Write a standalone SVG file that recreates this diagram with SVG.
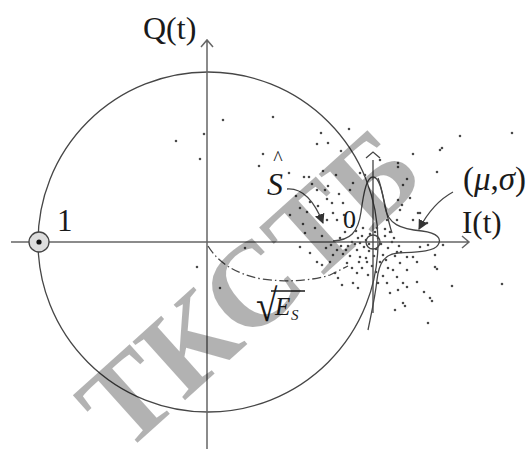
<svg xmlns="http://www.w3.org/2000/svg" width="527" height="464" viewBox="0 0 527 464">
<style>
.ax{stroke:#666;stroke-width:1.5;fill:none}
.ln{stroke:#464646;stroke-width:1.3;fill:none}
.tx{font-family:"Liberation Serif","Times New Roman",serif;fill:#1a1a1a}
.it{font-style:italic}
.dots{stroke:#4a4a4a;stroke-width:2.6;stroke-linecap:round;fill:none}
.wm{font-family:"Liberation Serif","Times New Roman",serif;font-weight:bold;font-size:120px;fill:#000;fill-opacity:0.3}
</style>
<defs>
<marker id="ah" viewBox="0 0 10 10" refX="9" refY="5" markerWidth="10" markerHeight="10" markerUnits="userSpaceOnUse" orient="auto">
<path d="M0 0L10 5L0 10z" fill="#333"/>
</marker>
</defs>
<rect width="527" height="464" fill="#fff"/>
<g id="circle"><circle cx="208" cy="242" r="170" class="ln"/></g>
<g id="axes">
<path class="ax" d="M11 242H469M462 236L469 242L462 248"/>
<path class="ax" d="M207 449V40M201 47L207 40L213 47"/>
</g>
<g id="scatter">
<path class="dots" d="M176 141h0M204 134h0M200 159h0M223 120h0M273 117h0M263 154h0M259 166h0M289 173h0M304 177h0M309 177h0M321 133h0M317 144h0M328 143h0M323 171h0M328 186h0M317 190h0M349 129h0M341 151h0M360 173h0M365 175h0M380 160h0M398 163h0M398 167h0M413 154h0M437 172h0M442 148h0M460 136h0M512 133h0M440 150h0M403 185h0M410 198h0M398 200h0M418 213h0M400 210h0M413 220h0M427 223h0M387 220h0M402 205h0M420 213h0M397 220h0M407 179h0M336 175h0M325 190h0M327 199h0M332 203h0M310 202h0M307 212h0M333 213h0M327 220h0M337 220h0M343 203h0M350 190h0M353 183h0M296 196h0M300 208h0M315 228h0M322 236h0M303 224h0M290 215h0M345 232h0M340 238h0M352 226h0M358 238h0M318 206h0M339 194h0M344 215h0M312 184h0
M245 248h0M300 247h0M310 253h0M317 262h0M322 265h0M335 273h0M338 278h0M347 263h0M352 268h0M357 273h0M360 257h0M367 262h0M353 283h0M358 288h0M400 263h0M407 270h0M413 257h0M397 277h0M387 283h0M390 293h0M403 303h0M417 282h0M197 267h0M220 288h0M305 233h0M333 255h0M443 245h0M435 255h0M435 267h0M420 247h0M428 245h0M417 262h0M407 257h0M397 252h0M393 270h0M403 283h0M407 287h0M430 298h0M428 323h0M452 286h0M502 284h0M432 301h0M405 306h0M437 269h0M424 292h0M342 285h0M330 262h0M395 310h0
M362 236h0M366 240h0M370 234h0M378 238h0M381 244h0M376 249h0M369 251h0M364 247h0M360 243h0M385 236h0M388 248h0M383 255h0M374 256h0M366 258h0M357 250h0M355 244h0M392 242h0M395 256h0M380 262h0M372 266h0M362 268h0M350 256h0M348 246h0M346 250h0M385 229h0M377 228h0M363 228h0M356 231h0M390 232h0M394 238h0M399 246h0M401 252h0M376 272h0M383 276h0M368 275h0M341 246h0M343 254h0M352 242h0M337 250h0M331 245h0M326 248h0M388 268h0M398 290h0M378 283h0M369 244h0M375 232h0M359 262h0M386 260h0"/>
</g>
<g id="distributions">
<path class="ln" d="M373 313V160M366 158L373 152L380 158"/>
<path class="ln" d="M333 241C350 240 358 233 361 212C364 190 367 177 373 177C379 177 382 190 385 207C388 224 400 229 422 231C438 233 442 239 438 245C434 252 415 252 398 253C385 254 379 262 377 280C375 298 371 315 368 330"/>
<path class="ln" d="M378 178C383 190 386 215 392 233"/>
<circle cx="373" cy="242" r="7" class="ln"/>
</g>
<g id="point1">
<circle cx="39" cy="242" r="10" fill="#ddd" stroke="#444" stroke-width="1.3"/>
<circle cx="39" cy="242" r="2.6" fill="#111"/>
</g>
<g id="connectors">
<path class="ln" d="M208 246Q224 272 262 279Q300 284 330 275L348 266" stroke-dasharray="9 3 1.5 3"/>
<path class="ln" d="M287 189C300 188 313 198 323 223" marker-end="url(#ah)"/>
<path class="ln" d="M453 192C440 199 428 212 419 229" marker-end="url(#ah)"/>
</g>
<g id="labels">
<text class="tx" x="143" y="39" font-size="32">Q(t)</text>
<text class="tx" x="57" y="231" font-size="31">1</text>
<text class="tx" x="462" y="233" font-size="31">I(t)</text>
<text class="tx" x="463" y="190" font-size="33">(<tspan class="it">μ</tspan>,<tspan class="it">σ</tspan>)</text>
<text class="tx it" x="267" y="195" font-size="32">S</text>
<text class="tx" x="278" y="165" font-size="20" text-anchor="middle">^</text>
<text class="tx" x="343" y="228" font-size="26">0</text>
<text class="tx" font-size="30" transform="translate(256 321) scale(1.3 1.5)">√</text>
<path d="M271 291H305" stroke="#1a1a1a" stroke-width="1.3"/>
<text class="tx it" x="275" y="315" font-size="25">E</text>
<text class="tx it" x="291" y="320" font-size="15">S</text>
</g>
<g id="watermark">
<text class="wm" x="124" y="455" transform="rotate(-42 124 455)">ТКСТБ</text>
</g>
</svg>
